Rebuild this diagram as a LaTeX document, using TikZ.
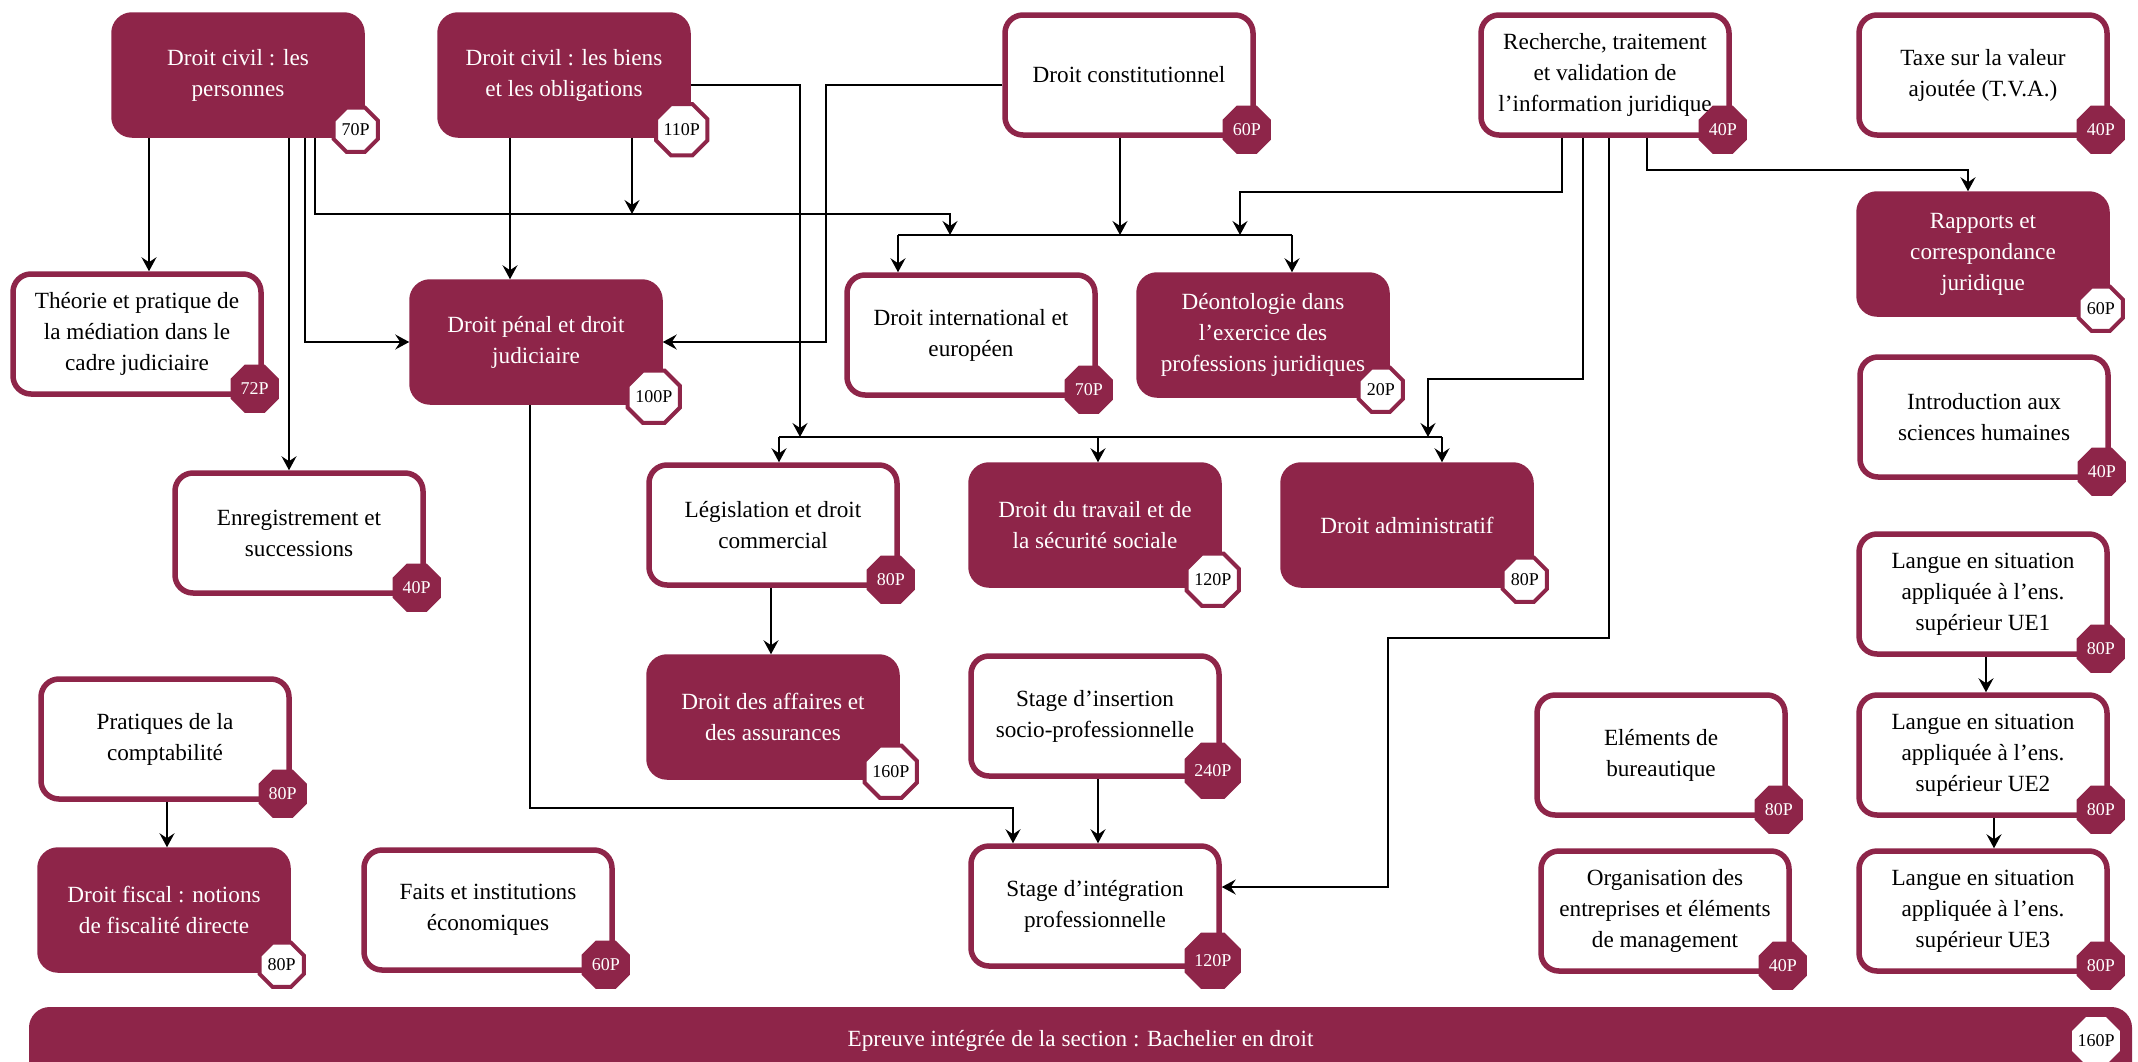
\documentclass[tikz,border=0pt]{standalone}
\usepackage{fontspec}
\setmainfont{Liberation Serif}
\usetikzlibrary{arrows.meta,shapes.geometric,calc}
\definecolor{maroon}{HTML}{8E2549}
\begin{document}
\begin{tikzpicture}[x=0.5pt,y=-0.5pt,
  base/.style={rounded corners=9pt, minimum width=124pt, minimum height=60pt, align=center, inner sep=2pt, font=\fontsize{11.6}{15.5}\selectfont, line width=2.75pt, draw=maroon},
  fbox/.style={base, fill=maroon, text=white},
  obox/.style={base, fill=white, text=black},
  badge/.style={regular polygon, regular polygon sides=8, minimum size=24pt, inner sep=0pt, line width=2pt, draw=maroon, font=\fontsize{9}{9}\selectfont},
  wbadge/.style={badge, fill=white, text=black},
  mbadge/.style={badge, fill=maroon, text=white},
  arr/.style={line width=0.8pt, -{Stealth[length=7pt,width=7.5pt,inset=2.5pt]}},
  ln/.style={line width=0.8pt}
]
\useasboundingbox (0,0) rectangle (2138,1061);

% boxes
\node[fbox] (pers) at (238,75) {Droit civil : les\\personnes};
\node[fbox] (biens) at (564,75) {Droit civil : les biens\\et les obligations};
\node[obox] (const) at (1129,75) {Droit constitutionnel};
\node[obox] (rech) at (1605,75) {Recherche, traitement\\et validation de\\l’information juridique};
\node[obox] (taxe) at (1983,75) {Taxe sur la valeur\\ajoutée (T.V.A.)};
\node[obox] (theo) at (137,334) {Théorie et pratique de\\la médiation dans le\\cadre judiciaire};
\node[fbox] (penal) at (536,342) {Droit pénal et droit\\judiciaire};
\node[obox] (intl) at (971,335) {Droit international et\\européen};
\node[fbox] (deon) at (1263,335) {Déontologie dans\\l’exercice des\\professions juridiques};
\node[fbox] (rapp) at (1983,254) {Rapports et\\correspondance\\juridique};
\node[obox] (intro) at (1984,417) {Introduction aux\\sciences humaines};
\node[obox] (enreg) at (299,533) {Enregistrement et\\successions};
\node[obox] (legis) at (773,525) {Législation et droit\\commercial};
\node[fbox] (trav) at (1095,525) {Droit du travail et de\\la sécurité sociale};
\node[fbox] (admin) at (1407,525) {Droit administratif};
\node[obox] (ueA) at (1983,594) {Langue en situation\\appliquée à l’ens.\\supérieur UE1};
\node[obox] (prat) at (165,739) {Pratiques de la\\comptabilité};
\node[fbox] (aff) at (773,717) {Droit des affaires et\\des assurances};
\node[obox] (ins) at (1095,716) {Stage d’insertion\\socio-professionnelle};
\node[obox] (bur) at (1661,755) {Eléments de\\bureautique};
\node[obox] (ueB) at (1983,755) {Langue en situation\\appliquée à l’ens.\\supérieur UE2};
\node[fbox] (fisc) at (164,910) {Droit fiscal : notions\\de fiscalité directe};
\node[obox] (faits) at (488,910) {Faits et institutions\\économiques};
\node[obox] (integ) at (1095,906) {Stage d’intégration\\professionnelle};
\node[obox] (org) at (1665,911) {Organisation des\\entreprises et éléments\\de management};
\node[obox] (ueC) at (1983,911) {Langue en situation\\appliquée à l’ens.\\supérieur UE3};
\node[fbox, anchor=north, minimum width=1048.75pt, minimum height=0pt, inner ysep=0pt, text height=18.5pt, text depth=23.5pt] (epr) at (1080.5,1007) {Epreuve intégrée de la section : Bachelier en droit};

% junction coordinates
\coordinate (hA) at (898,235);
\coordinate (hB) at (1292,235);
\coordinate (hC) at (779,437);
\coordinate (hD) at (1442,437);

% connectors
\draw[arr] (149,0 |- pers.south) -- (149,0 |- theo.north);
\draw[arr] (289,0 |- pers.south) -- (289,0 |- enreg.north);
\draw[arr] (305,0 |- pers.south) |- (penal.west);
\draw[arr] (315,0 |- pers.south) |- (950,214) -- (950,0 |- hA);
\draw[arr] (510,0 |- biens.south) -- (510,0 |- penal.north);
\draw[arr] (632,0 |- biens.south) -- (632,214);
\draw[arr] ($(biens.east)+(0,10)$) -| (800,0 |- hC);
\draw[arr] ($(const.west)+(0,10)$) -| (826,0 |- penal.east) -- (penal.east);
\draw[arr] (1120,0 |- const.south) -- (1120,0 |- hA);
\draw[ln] (hA) -- (hB);
\draw[arr] (hA) -- (hA |- intl.north);
\draw[arr] (hB) -- (hB |- deon.north);
\draw[arr] (1562,0 |- rech.south) |- (1240,192) -- (1240,0 |- hA);
\draw[arr] (1583,0 |- rech.south) |- (1428,379) -- (1428,0 |- hC);
\draw[arr] (1609,0 |- rech.south) |- (1388,638) |- ($(integ.east)+(0,-19)$);
\draw[arr] (1647,0 |- rech.south) |- (1968,170) -- (1968,0 |- rapp.north);
\draw[ln] (hC) -- (hD);
\draw[arr] (hC) -- (hC |- legis.north);
\draw[arr] (1098,0 |- hC) -- (1098,0 |- trav.north);
\draw[arr] (hD) -- (hD |- admin.north);
\draw[arr] (771,0 |- legis.south) -- (771,0 |- aff.north);
\draw[arr] (530,0 |- penal.south) |- (1013,808) -- (1013,0 |- integ.north);
\draw[arr] (1098,0 |- ins.south) -- (1098,0 |- integ.north);
\draw[arr] (167,0 |- prat.south) -- (167,0 |- fisc.north);
\draw[arr] (1986,0 |- ueA.south) -- (1986,0 |- ueB.north);
\draw[arr] (1994,0 |- ueB.south) -- (1994,0 |- ueC.north);

% badges
\node[wbadge] (pers-b) at ($(pers.south east)+(-9,-8)$) {70P};
\node[wbadge] (biens-b) at ($(biens.south east)+(-9,-8)$) {110P};
\node[mbadge] (const-b) at ($(const.south east)+(-9,-8)$) {60P};
\node[mbadge] (rech-b) at ($(rech.south east)+(-9,-8)$) {40P};
\node[mbadge] (taxe-b) at ($(taxe.south east)+(-9,-8)$) {40P};
\node[mbadge] (theo-b) at ($(theo.south east)+(-9,-8)$) {72P};
\node[wbadge] (penal-b) at ($(penal.south east)+(-9,-8)$) {100P};
\node[mbadge] (intl-b) at ($(intl.south east)+(-9,-8)$) {70P};
\node[wbadge] (deon-b) at ($(deon.south east)+(-9,-8)$) {20P};
\node[wbadge] (rapp-b) at ($(rapp.south east)+(-9,-8)$) {60P};
\node[mbadge] (intro-b) at ($(intro.south east)+(-9,-8)$) {40P};
\node[mbadge] (enreg-b) at ($(enreg.south east)+(-9,-8)$) {40P};
\node[mbadge] (legis-b) at ($(legis.south east)+(-9,-8)$) {80P};
\node[wbadge] (trav-b) at ($(trav.south east)+(-9,-8)$) {120P};
\node[wbadge] (admin-b) at ($(admin.south east)+(-9,-8)$) {80P};
\node[mbadge] (ueA-b) at ($(ueA.south east)+(-9,-8)$) {80P};
\node[mbadge] (prat-b) at ($(prat.south east)+(-9,-8)$) {80P};
\node[wbadge] (aff-b) at ($(aff.south east)+(-9,-8)$) {160P};
\node[mbadge] (ins-b) at ($(ins.south east)+(-9,-8)$) {240P};
\node[mbadge] (bur-b) at ($(bur.south east)+(-9,-8)$) {80P};
\node[mbadge] (ueB-b) at ($(ueB.south east)+(-9,-8)$) {80P};
\node[wbadge] (fisc-b) at ($(fisc.south east)+(-9,-8)$) {80P};
\node[mbadge] (faits-b) at ($(faits.south east)+(-9,-8)$) {60P};
\node[mbadge] (integ-b) at ($(integ.south east)+(-9,-8)$) {120P};
\node[mbadge] (org-b) at ($(org.south east)+(-9,-8)$) {40P};
\node[mbadge] (ueC-b) at ($(ueC.south east)+(-9,-8)$) {80P};
\node[wbadge] (epr-b) at ($(epr.north east)+(-36,34)$) {160P};
\end{tikzpicture}
\end{document}
